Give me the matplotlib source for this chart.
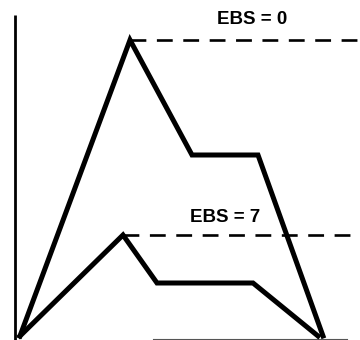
import matplotlib
matplotlib.use("Agg")
import matplotlib.pyplot as plt

# upper curve (EBS = 0)
x_ebs0 = [0, 110, 172, 238, 303]
y_ebs0 = [0, 296, 181, 181, 0]

# lower curve (EBS = 7)
x_ebs7 = [0, 103, 137, 233, 298]
y_ebs7 = [0, 101, 53, 53, 0]

# dashed reference levels
level_start = [110, 103]
level_y = [296, 101]
level_end = 345
labels = ["EBS = 0", "EBS = 7"]
label_x = [232, 205]
label_y = [316, 119]

fig = plt.figure(figsize=(3.6, 3.4), dpi=100)
ax = fig.add_axes([0, 0, 1, 1])
ax.set_xlim(-20, 340)
ax.set_ylim(-4, 336)
ax.axis("off")

# axes drawn by hand
ax.plot([-5, -5], [-4, 321], color="black", lw=2.0, solid_capstyle="butt")
ax.plot([133, 327], [-3, -3], color="#555555", lw=0.8)

for x0, y, txt, tx, ty in zip(level_start, level_y, labels, label_x, label_y):
    ax.plot([x0, level_end], [y, y], color="black", lw=1.9,
            linestyle=(0, (6, 4)), dash_capstyle="butt")
    ax.text(tx, ty, txt, ha="center", va="center", fontsize=13.5,
            fontweight="bold", family="Liberation Sans")

ax.plot(x_ebs0, y_ebs0, color="black", lw=3.6, solid_joinstyle="miter")
ax.plot(x_ebs7, y_ebs7, color="black", lw=3.6, solid_joinstyle="miter")

fig.savefig("out.png", dpi=100)
